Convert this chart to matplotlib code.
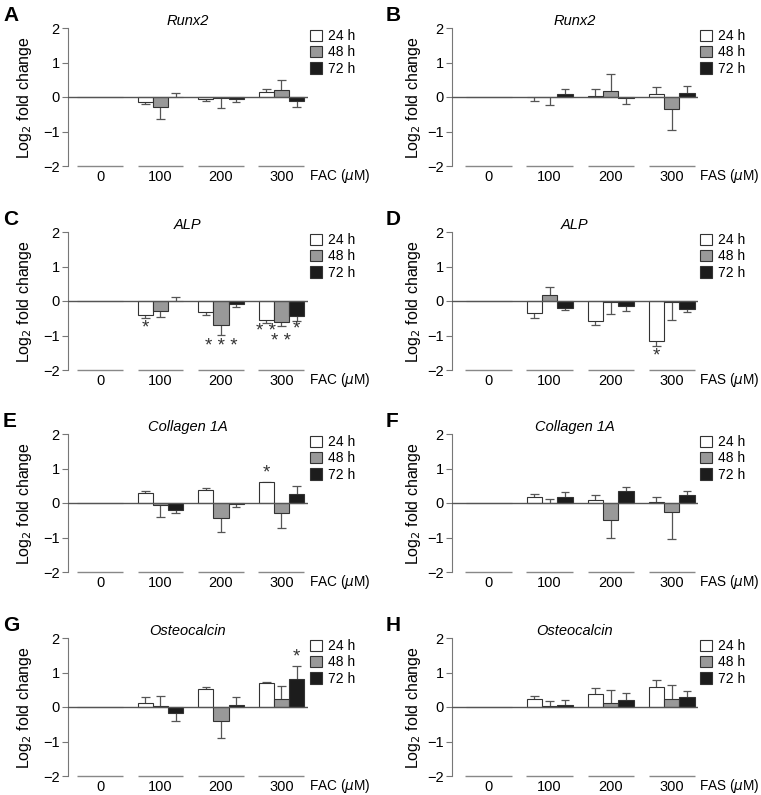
import matplotlib
matplotlib.use("Agg")
import matplotlib.pyplot as plt
from matplotlib.patches import Patch

plt.rcParams['font.family'] = ['Liberation Sans', 'DejaVu Sans']

doses = ['0', '100', '200', '300']
times = ['24 h', '48 h', '72 h']

# means (24 h, 48 h, 72 h) and error sizes, log2 fold change
runx2_fac_mean = [[0, -0.14, -0.05, 0.15], [0, -0.29, -0.03, 0.21], [0, 0.01, -0.05, -0.12]]
runx2_fac_err = [[0, 0.05, 0.07, 0.07], [0, 0.34, 0.29, 0.29], [0, 0.11, 0.10, 0.18]]
runx2_fas_mean = [[0, -0.01, 0.03, 0.10], [0, -0.01, 0.18, -0.35], [0, 0.09, -0.03, 0.12]]
runx2_fas_err = [[0, 0.11, 0.19, 0.20], [0, 0.21, 0.48, 0.60], [0, 0.13, 0.17, 0.20]]
alp_fac_mean = [[0, -0.41, -0.32, -0.55], [0, -0.29, -0.69, -0.60], [0, 0.01, -0.09, -0.43]]
alp_fac_err = [[0, 0.07, 0.08, 0.09], [0, 0.18, 0.29, 0.12], [0, 0.10, 0.09, 0.16]]
alp_fas_mean = [[0, -0.35, -0.57, -1.16], [0, 0.16, -0.03, -0.04], [0, -0.19, -0.15, -0.24]]
alp_fas_err = [[0, 0.13, 0.13, 0.15], [0, 0.25, 0.36, 0.51], [0, 0.08, 0.15, 0.08]]
col_fac_mean = [[0, 0.30, 0.37, 0.60], [0, -0.07, -0.43, -0.28], [0, -0.19, -0.03, 0.25]]
col_fac_err = [[0, 0.06, 0.07, 0.01], [0, 0.33, 0.40, 0.45], [0, 0.11, 0.10, 0.24]]
col_fas_mean = [[0, 0.17, 0.10, 0.04], [0, 0.01, -0.48, -0.25], [0, 0.18, 0.34, 0.22]]
col_fas_err = [[0, 0.10, 0.13, 0.13], [0, 0.11, 0.52, 0.78], [0, 0.14, 0.13, 0.13]]
ost_fac_mean = [[0, 0.13, 0.53, 0.70], [0, 0.04, -0.40, 0.24], [0, -0.16, 0.05, 0.80]]
ost_fac_err = [[0, 0.17, 0.05, 0.03], [0, 0.27, 0.50, 0.36], [0, 0.25, 0.24, 0.39]]
ost_fas_mean = [[0, 0.22, 0.38, 0.58], [0, 0.03, 0.12, 0.23], [0, 0.06, 0.19, 0.30]]
ost_fas_err = [[0, 0.10, 0.18, 0.19], [0, 0.15, 0.38, 0.42], [0, 0.15, 0.23, 0.16]]

# significance marks: (dose index, time index, text, y)
alp_fac_stars = [(1, 0, '*', -0.77), (2, 1, '* * *', -1.32), (3, 0, '* *', -0.87),
                 (3, 1, '* *', -1.16), (3, 2, '*', -0.82)]
alp_fas_stars = [(3, 0, '*', -1.59)]
col_fac_stars = [(3, 0, '*', 0.87)]
ost_fac_stars = [(3, 2, '*', 1.45)]

colors = ['white', '#999999', '#1c1c1c']
W, H = 761, 795

fig = plt.figure(figsize=(W / 100, H / 100), dpi=100)

def px_axes(left, top, width, height):
    return fig.add_axes([left / W, 1 - (top + height) / H, width / W, height / H])

def draw_panel(ax, means, errs, stars, title, chem, xlim):
    bw = 0.25
    for i in range(3):
        xs = [d + (i - 1) * bw for d in range(4)]
        ax.bar(xs, means[i], width=bw, color=colors[i], edgecolor='#333333', lw=0.8, zorder=2)
        for x, m, e in zip(xs, means[i], errs[i]):
            if e == 0:
                continue
            end = m + e if m >= 0 else m - e
            ax.vlines(x, m, end, color='#555555', lw=0.9, zorder=1)
            ax.hlines(end, x - 0.07, x + 0.07, color='#555555', lw=0.9, zorder=1)
    for d, t, s, y in stars:
        ax.text(d + (t - 1) * bw, y, s, ha='center', va='center', fontsize=13.5, color='#333333')
    ax.axhline(0, color='#555555', lw=1, zorder=3)
    for d in range(4):
        ax.hlines(-2, d - 0.38, d + 0.38, color='#888888', lw=1, clip_on=False)
    ax.set_xlim(*xlim)
    ax.set_ylim(-2, 2)
    for s in ['top', 'right', 'bottom']:
        ax.spines[s].set_visible(False)
    ax.spines['left'].set_color('#777777')
    ax.set_yticks([-2, -1, 0, 1, 2])
    ax.set_xticks(range(4))
    ax.set_xticklabels(doses)
    ax.tick_params(axis='x', length=0, pad=3, labelsize=10.5)
    ax.tick_params(axis='y', length=4, width=0.8, color='#777777', pad=2, labelsize=10.5)
    ax.set_title(title, style='italic', fontsize=10.5, pad=2)
    ax.text(1.006, -0.072, chem + r' ($\mu$M)', transform=ax.transAxes, ha='left', va='center',
            fontsize=9.8)
    handles = [Patch(facecolor=c, edgecolor='#333333', lw=0.8) for c in colors]
    ax.legend(handles, times, loc='upper left', bbox_to_anchor=(1.008, 0.99), frameon=False,
              borderpad=0, borderaxespad=0, handlelength=0.9, handleheight=0.9,
              handletextpad=0.4, labelspacing=0.15, fontsize=10)

tops = [28, 232, 434, 638]
panels = [
    ('A', 'Runx2', runx2_fac_mean, runx2_fac_err, [], 'FAC', 'B', runx2_fas_mean, runx2_fas_err, []),
    ('C', 'ALP', alp_fac_mean, alp_fac_err, alp_fac_stars, 'FAC', 'D', alp_fas_mean, alp_fas_err, alp_fas_stars),
    ('E', 'Collagen 1A', col_fac_mean, col_fac_err, col_fac_stars, 'FAC', 'F', col_fas_mean, col_fas_err, []),
    ('G', 'Osteocalcin', ost_fac_mean, ost_fac_err, ost_fac_stars, 'FAC', 'H', ost_fas_mean, ost_fas_err, []),
]

for top, p in zip(tops, panels):
    lab1, title, m1, e1, s1, chem, lab2, m2, e2, s2 = p
    ax1 = px_axes(68, top, 240, 138)
    draw_panel(ax1, m1, e1, s1, title, 'FAC', (-0.53, 3.44))
    ax2 = px_axes(452, top, 246, 138)
    draw_panel(ax2, m2, e2, s2, title, 'FAS', (-0.6, 3.43))
    fig.text(3 / W, 1 - (top - 22) / H, lab1, fontsize=15, fontweight='bold', va='top')
    fig.text(386 / W, 1 - (top - 22) / H, lab2, fontsize=15, fontweight='bold', va='top')
    yc = 1 - (top + 70) / H
    fig.text(25 / W, yc, r'Log$_2$ fold change', rotation=90, ha='center', va='center', fontsize=11.5)
    fig.text(414 / W, yc, r'Log$_2$ fold change', rotation=90, ha='center', va='center', fontsize=11.5)

fig.savefig('out.png', dpi=100)
